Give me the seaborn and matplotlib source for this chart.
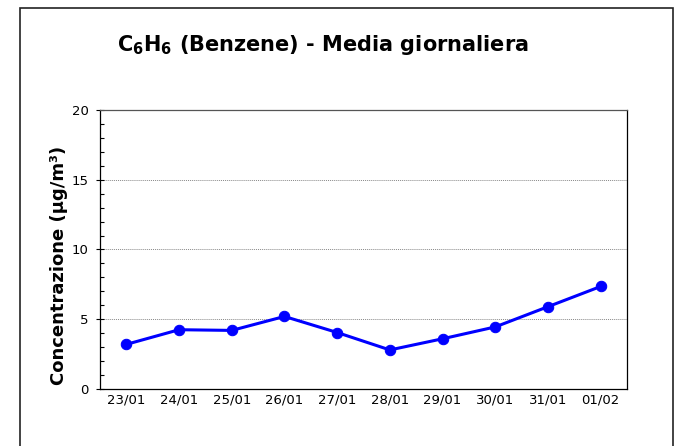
import numpy as np
import pandas as pd
import matplotlib
matplotlib.use('Agg')
import matplotlib.pyplot as plt
from matplotlib.patches import Rectangle
from matplotlib.ticker import MultipleLocator, FixedLocator
import seaborn as sns

# Dati: media giornaliera del benzene
giorni = ['23/01', '24/01', '25/01', '26/01', '27/01', '28/01', '29/01', '30/01', '31/01', '01/02']
valori = [3.2, 4.25, 4.2, 5.2, 4.05, 2.8, 3.6, 4.45, 5.9, 7.35]

df = pd.DataFrame({'giorno': giorni, 'valore': valori})
df['pos'] = np.arange(len(giorni))

sns.set_style('white')
plt.rcParams['font.family'] = ['DejaVu Sans']
plt.rcParams['text.color'] = 'black'
plt.rcParams['axes.labelcolor'] = 'black'
plt.rcParams['xtick.color'] = 'black'
plt.rcParams['ytick.color'] = 'black'

fig = plt.figure(figsize=(6.79, 4.46), dpi=100)
ax = fig.add_axes([100/679, 1 - 389/446, 527/679, 279/446])

# Cornice esterna
fig.patches.append(Rectangle((20/679, -0.1), 653/679, 1.1 - 8/446, transform=fig.transFigure,
                             fill=False, edgecolor='#222222', linewidth=1.2))

sns.lineplot(data=df, x='pos', y='valore', ax=ax, color='#0000ff', linewidth=2.2,
             marker='o', markersize=7.5, markeredgecolor='#0000ff')

ax.set_xlim(-0.5, len(giorni) - 0.5)
ax.set_ylim(0, 20)

# Griglia orizzontale
for v in [5, 10, 15, 20]:
    ax.axhline(v, color='#888888', linewidth=0.7, linestyle=(0, (1, 1)), zorder=0)

ax.set_xticks(df['pos'])
ax.set_xticklabels(giorni, fontsize=9.5)
ax.xaxis.set_minor_locator(FixedLocator(np.arange(-0.5, len(giorni), 1)))
ax.tick_params(axis='x', which='major', length=0, pad=3)
ax.tick_params(axis='x', which='minor', length=4, direction='out', width=0.8, color='black')

ax.yaxis.set_major_locator(MultipleLocator(5))
ax.yaxis.set_minor_locator(MultipleLocator(1))
ax.tick_params(axis='y', which='major', labelsize=9.5, length=6, direction='inout', width=0.8, color='black', left=True)
ax.tick_params(axis='y', which='minor', length=3, direction='in', width=0.8, color='black', left=True)
ax.tick_params(axis='y', which='major', pad=5)

for s in ax.spines.values():
    s.set_color('black')
    s.set_linewidth(0.9)
ax.spines['top'].set_color('#555555')

ax.set_xlabel('')
ax.set_ylabel('Concentrazione (µg/m³)', fontsize=13, fontweight='bold')
ax.yaxis.set_label_coords(-0.061, 0.444)

fig.text(323/679, 1 - 45/446, r'C$_{\mathbf{6}}$H$_{\mathbf{6}}$ (Benzene) - Media giornaliera',
         ha='center', va='center', fontsize=15, fontweight='bold')

fig.savefig('out.png', dpi=100)
